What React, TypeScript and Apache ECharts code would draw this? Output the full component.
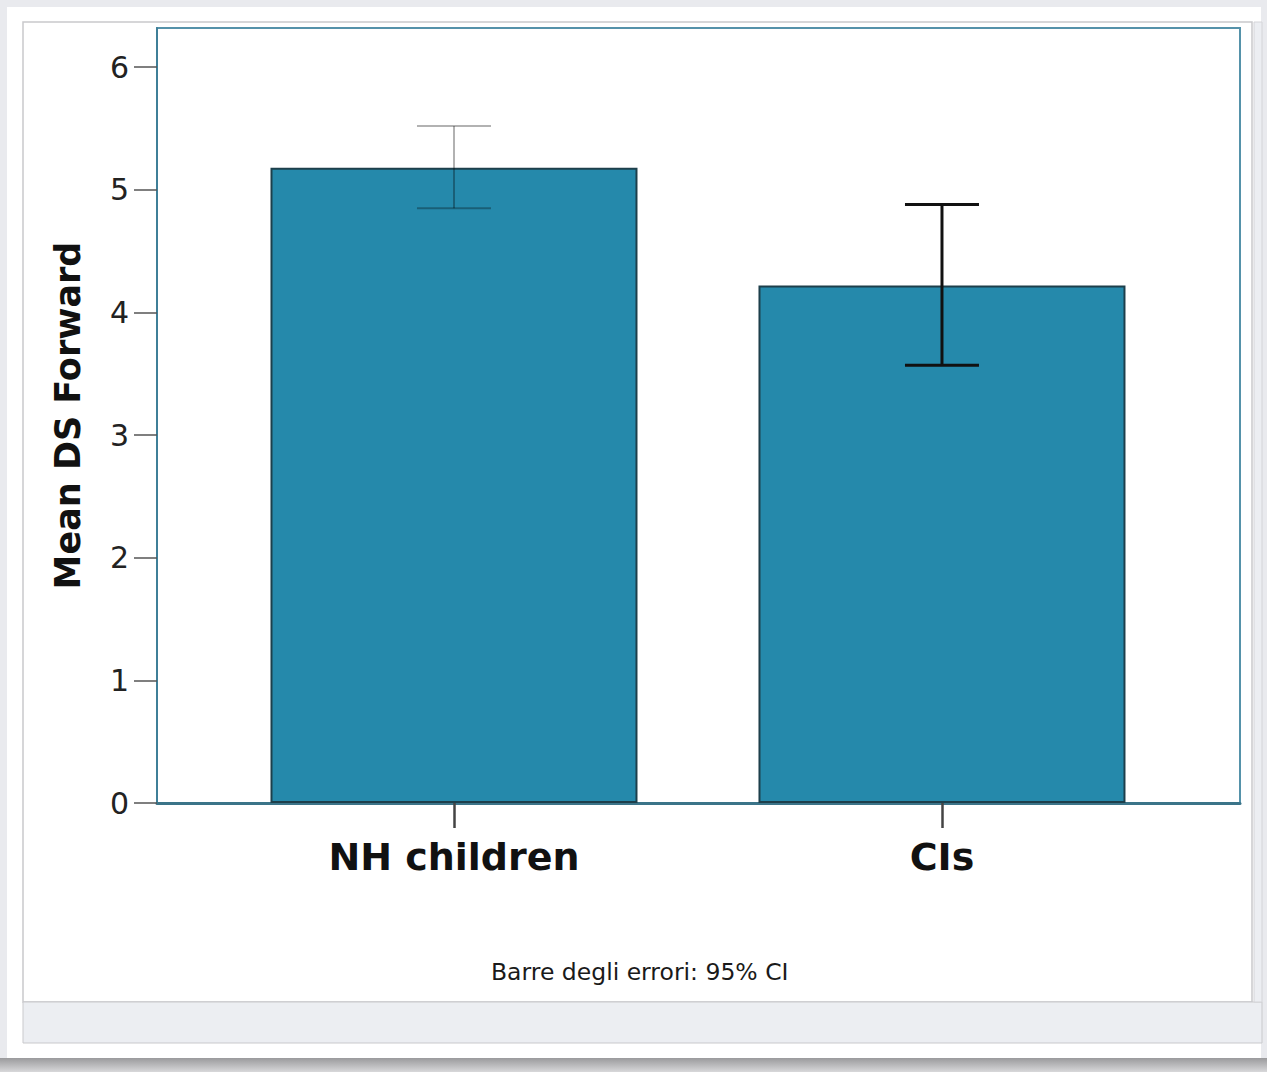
import React, { useEffect, useRef } from "react";
import * as echarts from "echarts";

const categories = ["NH children", "CIs"];
const means = [5.18, 4.22];
const ciLow = [4.85, 3.57];
const ciHigh = [5.52, 4.88];
const yTicks = [0, 1, 2, 3, 4, 5, 6];
const yTitle = "Mean DS Forward";
const footnote = "Barre degli errori: 95% CI";

const W = 1267;
const H = 1072;

export default function App() {
  const ref = useRef<HTMLDivElement>(null);
  useEffect(() => {
    document.body.style.margin = "0";
    const chart = echarts.init(ref.current!, null, { renderer: "svg" });
    const errStyles = [
      { stroke: "rgba(0,0,0,0.3)", lineWidth: 2 },
      { stroke: "#111", lineWidth: 3 },
    ];
    const FONT = "DejaVu Sans";
    chart.setOption({
      animation: false,
      backgroundColor: "#ffffff",
      textStyle: { fontFamily: FONT },
      title: {
        text: footnote,
        left: 486,
        top: 955,
        textStyle: { fontFamily: FONT, fontSize: 23.5, fontWeight: "normal", color: "#1a1a1a" },
      },
      graphic: [
        { type: "rect", z: -100, shape: { x: 0, y: 0, width: W, height: H }, style: { fill: "#e9eaee" } },
        { type: "rect", z: -99, shape: { x: 7, y: 7, width: 1254, height: 1051 }, style: { fill: "#ffffff" } },
        {
          type: "rect",
          z: -98,
          shape: { x: 23, y: 22, width: 1229, height: 980 },
          style: { fill: "#ffffff", stroke: "#c9c9cc", lineWidth: 1.5 },
        },
        {
          type: "rect",
          z: -98,
          shape: { x: 23, y: 1002, width: 1239, height: 41 },
          style: { fill: "#eceef2", stroke: "#c9c9cc", lineWidth: 1 },
        },
        {
          type: "rect",
          z: -98,
          shape: { x: 1254, y: 22, width: 8, height: 980 },
          style: { fill: "#eceef2", stroke: "#d4d4d8", lineWidth: 1 },
        },
        {
          type: "rect",
          z: -98,
          shape: { x: 0, y: 1058, width: W, height: 14 },
          style: {
            fill: {
              type: "linear",
              x: 0,
              y: 0,
              x2: 0,
              y2: 1,
              colorStops: [
                { offset: 0, color: "#9a9a9c" },
                { offset: 1, color: "#d8d8da" },
              ],
            },
          },
        },
      ],
      grid: {
        left: 157,
        right: 27,
        top: 28,
        bottom: 269,
        show: true,
        borderColor: "#5592aa",
        borderWidth: 2,
        backgroundColor: "transparent",
      },
      xAxis: {
        type: "value",
        min: -0.6086,
        max: 1.6107,
        splitLine: { show: false },
        axisLine: { show: true, onZero: false, lineStyle: { color: "#3b7489", width: 3 } },
        axisTick: {
          show: true,
          customValues: [0, 1],
          length: 25,
          lineStyle: { color: "#444", width: 2.5 },
        },
        axisLabel: {
          customValues: [0, 1],
          formatter: (v: number) => categories[Math.round(v)] ?? "",
          margin: 35,
          fontFamily: FONT,
          fontSize: 38,
          fontWeight: "bold",
          color: "#111",
        },
      },
      yAxis: {
        type: "value",
        min: 0,
        max: 6.32,
        name: yTitle,
        nameLocation: "middle",
        nameGap: 72,
        nameTextStyle: { fontFamily: FONT, fontSize: 35, fontWeight: "bold", color: "#111" },
        splitLine: { show: false },
        axisLine: { show: true, onZero: false, lineStyle: { color: "#3f7f98", width: 2 } },
        axisTick: {
          show: true,
          customValues: yTicks,
          length: 23,
          lineStyle: { color: "#555", width: 1.5 },
        },
        axisLabel: {
          customValues: yTicks,
          margin: 28,
          fontFamily: FONT,
          fontSize: 30,
          color: "#222",
        },
      },
      series: [
        {
          type: "bar",
          barWidth: 367,
          data: means.map((v, i) => [i, v]),
          itemStyle: { color: "#2589ab", borderColor: "#1d3f4b", borderWidth: 2 },
        },
        {
          type: "custom",
          z: 5,
          data: means.map((_, i) => [i, ciLow[i], ciHigh[i]]),
          encode: { x: 0, y: [1, 2] },
          renderItem: (params: any, api: any) => {
            const x = api.value(0);
            const lo = api.coord([x, api.value(1)]);
            const hi = api.coord([x, api.value(2)]);
            const half = 37;
            const st = errStyles[params.dataIndex] || errStyles[1];
            const style = { stroke: st.stroke, lineWidth: st.lineWidth, fill: "none" };
            return {
              type: "group",
              children: [
                { type: "line", shape: { x1: lo[0], y1: lo[1], x2: hi[0], y2: hi[1] }, style },
                { type: "line", shape: { x1: hi[0] - half, y1: hi[1], x2: hi[0] + half, y2: hi[1] }, style },
                { type: "line", shape: { x1: lo[0] - half, y1: lo[1], x2: lo[0] + half, y2: lo[1] }, style },
              ],
            };
          },
        },
      ],
    });
    return () => chart.dispose();
  }, []);
  return <div ref={ref} style={{ width: W, height: H }} />;
}
